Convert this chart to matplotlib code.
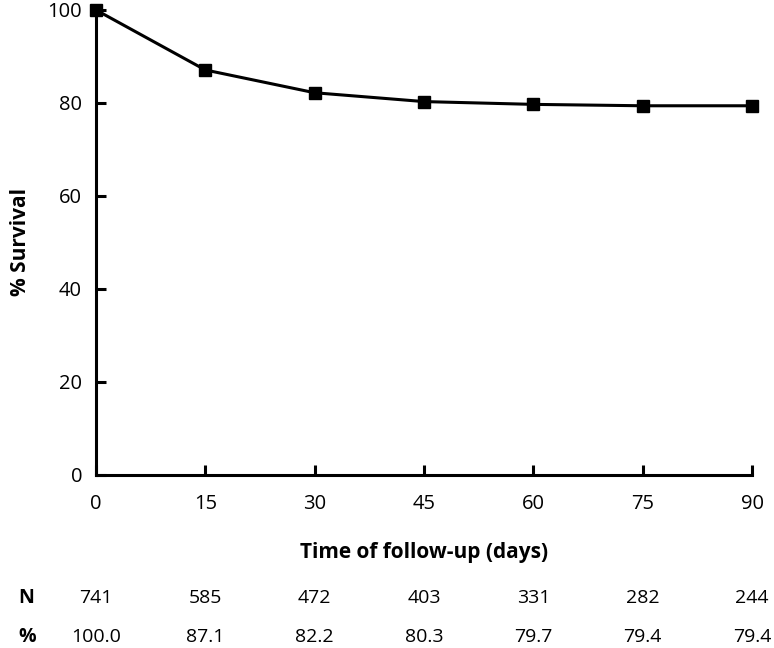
import matplotlib.pyplot as plt
import matplotlib.transforms as mtransforms

# data
days = [0, 15, 30, 45, 60, 75, 90]
survival = [100.0, 87.1, 82.2, 80.3, 79.7, 79.4, 79.4]
n_at_risk = [741, 585, 472, 403, 331, 282, 244]
pct_labels = ["100.0", "87.1", "82.2", "80.3", "79.7", "79.4", "79.4"]

plt.rcParams['font.family'] = ['Open Sans', 'DejaVu Sans']

fig = plt.figure(figsize=(7.74, 6.48), dpi=100)
ax = fig.add_axes([0.124, 0.267, 0.8476, 0.7176])

ax.plot(days, survival, color='black', lw=2.2, marker='s', markersize=8,
        clip_on=False, zorder=3)

ax.set_xlim(0, 90)
ax.set_ylim(0, 100)
ax.set_xticks(days)
ax.set_yticks([0, 20, 40, 60, 80, 100])
ax.spines['top'].set_visible(False)
ax.spines['right'].set_visible(False)
for s in ['left', 'bottom']:
    ax.spines[s].set_linewidth(2.2)
ax.tick_params(direction='in', length=7, width=2.2, labelsize=14.5)
ax.tick_params(axis='x', pad=14)
ax.tick_params(axis='y', pad=10)

ax.set_xlabel('Time of follow-up (days)', fontsize=15, fontweight='bold', labelpad=20)
ax.set_ylabel('% Survival', fontsize=15, fontweight='bold', labelpad=12)

# numbers at risk table under the axis
trans = mtransforms.blended_transform_factory(ax.transData, fig.transFigure)
row_n_y = 1 - 598 / 648
row_p_y = 1 - 637 / 648
fig.text(18 / 774, row_n_y, 'N', fontsize=14, fontweight='bold', ha='left', va='center')
fig.text(18 / 774, row_p_y, '%', fontsize=14, fontweight='bold', ha='left', va='center')
for x, n, p in zip(days, n_at_risk, pct_labels):
    ax.text(x, row_n_y, str(n), transform=trans, fontsize=14, ha='center', va='center')
    ax.text(x, row_p_y, p, transform=trans, fontsize=14, ha='center', va='center')

fig.savefig('out.png', dpi=100)
